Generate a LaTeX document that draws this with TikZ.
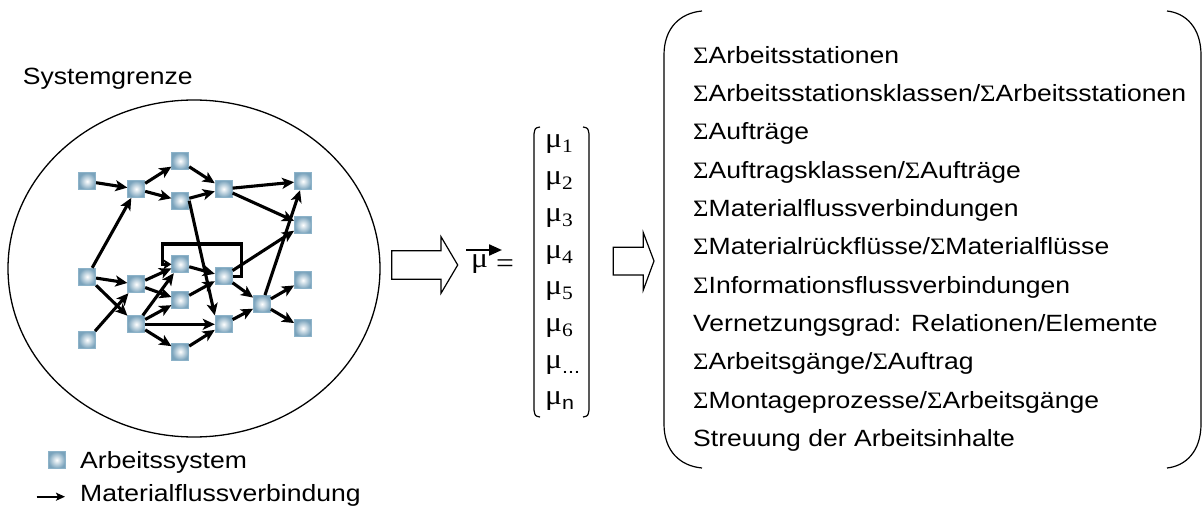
\documentclass[tikz,border=0pt]{standalone}
\usepackage{fontspec}
\setmainfont{Liberation Sans}[FakeStretch=1.13]
\newfontfamily\serifgr{Liberation Serif}[FakeStretch=1.13]
\usetikzlibrary{arrows.meta}

\definecolor{boxblue}{RGB}{122,163,188}
\definecolor{boxedge}{RGB}{140,178,200}

\newcommand\Sg{{\serifgr Σ}}
% mu with a subscript: serif digits, sans letters
\newcommand\mub[1]{{\fontsize{28}{30}\serifgr μ}\raisebox{-5pt}{#1}}
\newcommand\subd[1]{{\fontsize{19}{19}\serifgr #1}}
\newcommand\subs[1]{{\fontsize{19}{19}\selectfont #1}}

\tikzset{
  box/.style={minimum size=17pt, inner sep=0pt, draw=boxedge, line width=0.8pt,
    inner color=white, outer color=boxblue},
  flow/.style={line width=3.1pt, -{Stealth[length=12pt,width=11pt,inset=3pt]}},
  txt/.style={anchor=base west, inner sep=0pt, font=\fontsize{23.5}{28}\selectfont},
  hollow/.style={draw, line width=1.2pt, fill=white, line join=miter},
  bracket/.style={line width=1.2pt},
}

\begin{document}
\begin{tikzpicture}[x=1pt,y=-1pt]
\useasboundingbox (0,0) rectangle (1202,508);

% system boundary
\draw[line width=1.3pt] (194,268.5) ellipse [x radius=186, y radius=168.5];
\node[txt] (sys) at (22.7,85) {Systemgrenze};

% work systems
\node[box] (A) at (87.2,181.3) {};
\node[box] (B) at (136.3,189) {};
\node[box] (C) at (180.3,161) {};
\node[box] (D) at (180.3,200.7) {};
\node[box] (E) at (223.7,189) {};
\node[box] (F) at (303,181.3) {};
\node[box] (G) at (303,225) {};
\node[box] (H) at (87.2,276.7) {};
\node[box] (I) at (136.3,284.3) {};
\node[box] (J) at (180.3,264.3) {};
\node[box] (K) at (223.7,276.3) {};
\node[box] (L) at (180.3,300.3) {};
\node[box] (M) at (136.3,324.3) {};
\node[box] (N) at (223.7,324.3) {};
\node[box] (O) at (262,304) {};
\node[box] (P) at (303,280.3) {};
\node[box] (Q) at (303,328.3) {};
\node[box] (R) at (87.2,340) {};
\node[box] (S) at (180.3,351.7) {};

% material flow connections
\draw[flow] (A) -- (B);
\draw[flow] (B) -- (C);
\draw[flow] (B) -- (D);
\draw[flow] (C) -- (E);
\draw[flow] (D) -- (E);
\draw[flow] (E) -- (F);
\draw[flow] (E) -- (G);
\draw[flow] (H) -- (B);
\draw[flow] (H) -- (I);
\draw[flow] (H) -- (M);
\draw[flow] (R) -- (I);
\draw[flow] (I) -- (J);
\draw[flow] (I) -- (L);
\draw[flow] (M) -- (J);
\draw[flow] (M) -- (L);
\draw[flow] (M) -- (N);
\draw[flow] (M) -- (S);
\draw[flow] (J) -- (K);
\draw[flow] (L) -- (K);
\draw[flow] (D.east) -- (N.north west);
\draw[flow] (S) -- (N);
\draw[flow] (K) -- (O);
\draw[flow] (N) -- (O);
\draw[flow] (K) -- (G);
\draw[flow] (O) -- (F);
\draw[flow] (O) -- (P);
\draw[flow] (O) -- (Q);
% return flow
\draw[line width=3.1pt, -{Stealth[length=8pt,width=10pt,inset=2pt]}]
  (K.east) -| (241.7,244) -| (162.7,264.3) -- (J.west);

% legend
\node[box] (lb) at (56.7,460) {};
\node[txt] (lt1) at (80,468.3) {Arbeitssystem};
\coordinate (la1) at (36.7,496.7);
\coordinate (la2) at (65,496.7);
\draw[line width=2.2pt, -{Stealth[length=9pt,width=8pt,inset=2pt]}] (la1) -- (la2);
\node[txt] (lt2) at (80,501.7) {Materialflussverbindung};

% first hollow arrow
\draw[hollow] (391.7,250.7) -- (441,250.7) -- (441,236.7) -- (457.7,265)
  -- (441,293.3) -- (441,279.3) -- (391.7,279.3) -- cycle;

% characteristic vector
\node[txt, font=\fontsize{28}{30}\serifgr] (vec) at (471,267) {μ};
\draw[line width=2.2pt, -{Triangle[length=13pt,width=11pt]}] (466,250) -- (502,250);
\node[txt, font=\fontsize{28}{30}\serifgr] (eq) at (496,272) {=};

\draw[bracket] (540,127) .. controls (535,128) .. (534,134) -- (534,410)
  .. controls (535,416) .. (540,417);
\draw[bracket] (583,127) .. controls (588,128) .. (589,134) -- (589,410)
  .. controls (588,416) .. (583,417);

\foreach \k/\s in {1/\subd{1},2/\subd{2},3/\subd{3},4/\subd{4},5/\subd{5},6/\subd{6},
                   7/\subs{...},8/\subs{n}}{
  \node[txt] (m\k) at (545,{148+36.7*(\k-1)}) {\mub{\s}};
}

% second hollow arrow
\draw[hollow] (613.3,247.3) -- (643.3,247.3) -- (643.3,232.7) -- (654,261)
  -- (643.3,290) -- (643.3,275) -- (613.3,275) -- cycle;

% large parentheses
\draw[bracket] (702,11) .. controls (680,13) and (664,28) .. (664,55) -- (664,424)
  .. controls (664,451) and (680,466) .. (702,468);
\draw[bracket] (1167,11) .. controls (1186,13) and (1201,28) .. (1201,55) -- (1201,424)
  .. controls (1201,451) and (1186,466) .. (1167,468);

% list of characteristics
\foreach \k/\t in {
  1/{\Sg Arbeitsstationen},
  2/{\Sg Arbeitsstationsklassen/\Sg Arbeitsstationen},
  3/{\Sg Aufträge},
  4/{\Sg Auftragsklassen/\Sg Aufträge},
  5/{\Sg Materialflussverbindungen},
  6/{\Sg Materialrückflüsse/\Sg Materialflüsse},
  7/{\Sg Informationsflussverbindungen},
  8/{Vernetzungsgrad: Relationen/Elemente},
  9/{\Sg Arbeitsgänge/\Sg Auftrag},
  10/{\Sg Montageprozesse/\Sg Arbeitsgänge},
  11/{Streuung der Arbeitsinhalte}}{
  \node[txt] (t\k) at (693,{63.3+38.3*(\k-1)}) {\t};
}
\end{tikzpicture}
\end{document}
